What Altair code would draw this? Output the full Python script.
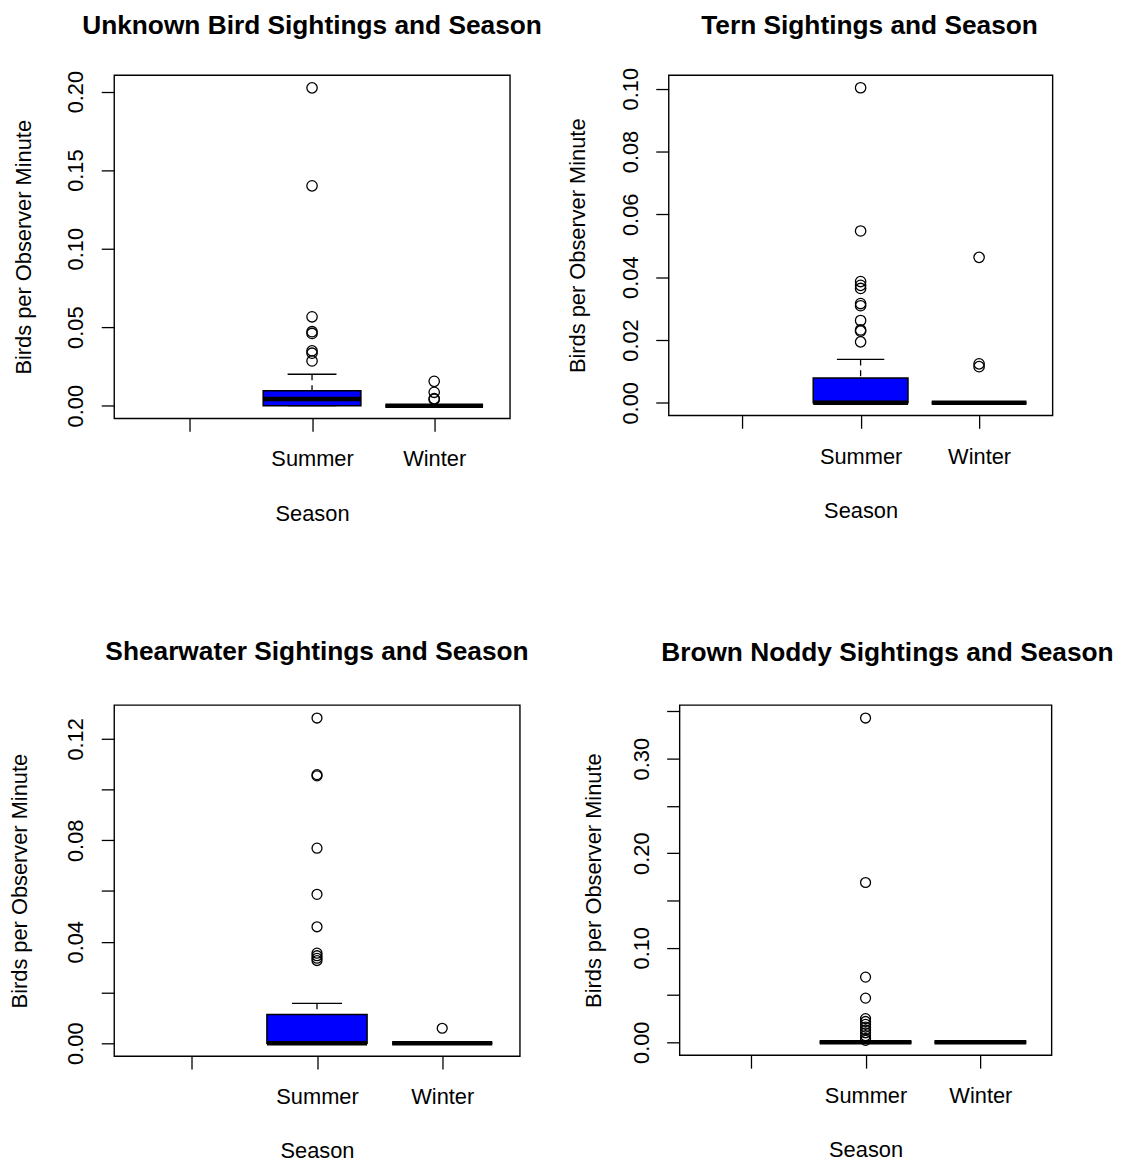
import json
import altair as alt
import pandas as pd

FONT = "Liberation Sans"

# Categories on the x axis (first level is an empty season label)
seasons = ["", "Summer", "Winter"]

# Box statistics per season: [lower whisker, Q1, median, Q3, upper whisker]
unknown_summer_stats = [0.0, 0.0, 0.0042, 0.0095, 0.0200]
unknown_winter_stats = [0.0, 0.0, 0.0, 0.0, 0.0]
unknown_summer_outliers = [0.2024, 0.1400, 0.0566, 0.0471, 0.0460, 0.0349, 0.0334, 0.0285]
unknown_winter_outliers = [0.0155, 0.0085, 0.0045, 0.0040]
unknown_ticks = [0.0, 0.05, 0.10, 0.15, 0.20]
unknown_labeled = [0.0, 0.05, 0.10, 0.15, 0.20]

tern_summer_stats = [0.0, 0.0, 0.0, 0.0079, 0.0138]
tern_winter_stats = [0.0, 0.0, 0.0, 0.0, 0.0]
tern_summer_outliers = [0.1003, 0.0547, 0.0386, 0.0374, 0.0364, 0.0316, 0.0309,
                        0.0262, 0.0232, 0.0228, 0.0194]
tern_winter_outliers = [0.0463, 0.0124, 0.0115]
tern_ticks = [0.0, 0.02, 0.04, 0.06, 0.08, 0.10]
tern_labeled = [0.0, 0.02, 0.04, 0.06, 0.08, 0.10]

shear_summer_stats = [0.0, 0.0, 0.0, 0.0113, 0.0157]
shear_winter_stats = [0.0, 0.0, 0.0, 0.0, 0.0]
shear_summer_outliers = [0.1282, 0.1059, 0.1054, 0.0769, 0.0587, 0.0459,
                         0.0355, 0.0345, 0.0335, 0.0326]
shear_winter_outliers = [0.0059]
shear_ticks = [0.0, 0.02, 0.04, 0.06, 0.08, 0.10, 0.12]
shear_labeled = [0.0, 0.04, 0.08, 0.12]

noddy_summer_stats = [0.0, 0.0, 0.0, 0.0, 0.0]
noddy_winter_stats = [0.0, 0.0, 0.0, 0.0, 0.0]
noddy_summer_outliers = [0.343, 0.169, 0.0689, 0.0467, 0.025, 0.022, 0.019, 0.016,
                         0.013, 0.010, 0.007, 0.004, 0.002]
noddy_winter_outliers = []
noddy_ticks = [0.0, 0.05, 0.10, 0.15, 0.20, 0.25, 0.30, 0.35]
noddy_labeled = [0.0, 0.10, 0.20, 0.30]

BOX_HALF = 0.4
CAP_HALF = 0.2
BLUE = "#0000FF"


def make_panel(title, stats, outliers, ticks, labeled, width, height,
               title_offset, title_dx, ytitle_x, ylabel_pad, pt_size):
    rows = []
    for season, st in stats.items():
        pos = seasons.index(season) + 1
        rows.append(dict(season=season, pos=pos, lo=st[0], q1=st[1], med=st[2],
                         q3=st[3], hi=st[4], xl=pos - BOX_HALF, xr=pos + BOX_HALF,
                         cl=pos - CAP_HALF, cr=pos + CAP_HALF))
    box_df = pd.DataFrame(rows)
    out_rows = [dict(season=s, pos=seasons.index(s) + 1, value=v)
                for s, vals in outliers.items() for v in vals]
    out_df = pd.DataFrame(out_rows)

    vals = [v for st in stats.values() for v in st] + [r["value"] for r in out_rows]
    vmin, vmax = min(vals), max(vals)
    pad = 0.04 * (vmax - vmin)
    xscale = alt.Scale(domain=[0.5 - 0.12, 3.5 + 0.12], nice=False, zero=False)
    yscale = alt.Scale(domain=[vmin - pad, vmax + pad], nice=False, zero=False)

    cond = " || ".join(f"abs(datum.value - {v}) < 1e-9" for v in labeled)
    yaxis = alt.Axis(values=ticks, title="Birds per Observer Minute",
                     labelExpr=f"({cond}) ? format(datum.value, '.2f') : ''",
                     labelAngle=270, labelAlign="center", labelBaseline="alphabetic",
                     labelPadding=ylabel_pad, titleAngle=270, titleBaseline="alphabetic",
                     titleX=ytitle_x)
    xaxis = alt.Axis(values=[1, 2, 3], title="Season",
                     labelExpr=f"{json.dumps(seasons)}[datum.value - 1]",
                     labelBaseline="alphabetic", labelAlign="center", labelPadding=35,
                     titleBaseline="alphabetic", titleY=102.5)

    def X(f):
        return alt.X(f, scale=xscale, axis=xaxis)

    def Y(f):
        return alt.Y(f, scale=yscale, axis=yaxis)

    base = alt.Chart(box_df)
    box = base.mark_rect(fill=BLUE, stroke="black", strokeWidth=1.5).encode(
        x=X("xl:Q"), x2="xr:Q", y=Y("q1:Q"), y2="q3:Q")
    wh_up = base.mark_rule(color="black", strokeWidth=1.3, strokeDash=[6, 5]).encode(
        x=X("pos:Q"), y=Y("hi:Q"), y2="q3:Q")
    wh_lo = base.mark_rule(color="black", strokeWidth=1.3, strokeDash=[6, 5]).encode(
        x=X("pos:Q"), y=Y("lo:Q"), y2="q1:Q")
    cap_up = base.mark_rule(color="black", strokeWidth=1.3).encode(
        x=X("cl:Q"), x2="cr:Q", y=Y("hi:Q"))
    cap_lo = base.mark_rule(color="black", strokeWidth=1.3).encode(
        x=X("cl:Q"), x2="cr:Q", y=Y("lo:Q"))
    median = base.mark_rule(color="black", strokeWidth=4.5).encode(
        x=X("xl:Q"), x2="xr:Q", y=Y("med:Q"))
    pts = alt.Chart(out_df).mark_point(shape="circle", filled=False, color="black",
                                       strokeWidth=1.3, size=pt_size, opacity=1).encode(
        x=X("pos:Q"), y=Y("value:Q"))

    return alt.layer(box, wh_up, wh_lo, cap_up, cap_lo, median, pts).properties(
        width=width, height=height,
        title=alt.TitleParams(text=title, font=FONT, fontSize=26.5, fontWeight="bold",
                              color="black", anchor="middle", frame="group",
                              baseline="alphabetic", offset=title_offset, dx=title_dx))


p1 = make_panel("Unknown Bird Sightings and Season",
                {"Summer": unknown_summer_stats, "Winter": unknown_winter_stats},
                {"Summer": unknown_summer_outliers, "Winter": unknown_winter_outliers},
                unknown_ticks, unknown_labeled, 399, 346, 10, 0, -84, 19, 110)
p2 = make_panel("Tern Sightings and Season",
                {"Summer": tern_summer_stats, "Winter": tern_winter_stats},
                {"Summer": tern_summer_outliers, "Winter": tern_winter_outliers},
                tern_ticks, tern_labeled, 387, 343, 7, 9, -84.5, 18, 110)
p3 = make_panel("Shearwater Sightings and Season",
                {"Summer": shear_summer_stats, "Winter": shear_winter_stats},
                {"Summer": shear_summer_outliers, "Winter": shear_winter_outliers},
                shear_ticks, shear_labeled, 409, 354, 19, 0, -88, 19, 100)
p4 = make_panel("Brown Noddy Sightings and Season",
                {"Summer": noddy_summer_stats, "Winter": noddy_winter_stats},
                {"Summer": noddy_summer_outliers, "Winter": noddy_winter_outliers},
                noddy_ticks, noddy_labeled, 375, 353, 18, 22, -80, 18, 100)

row1 = alt.hconcat(p1, p2, spacing=160, bounds="flush")
row2 = alt.hconcat(p3, p4, spacing=161, bounds="flush")

chart = alt.vconcat(row1, row2, spacing=113).properties(
    padding={"left": 0, "top": 0, "right": 5, "bottom": 0}
).configure_view(stroke="black", strokeWidth=1.4).configure_axis(
    domain=False, grid=False, ticks=True, tickColor="black", tickWidth=1.3, tickSize=13,
    labelFont=FONT, labelFontSize=22, labelColor="black", labelOverlap=False,
    labelFlush=False, titleFont=FONT, titleFontSize=22, titleFontWeight="normal",
    titleColor="black")

chart.save("out.html", embed_options={"renderer": "svg", "actions": False})
